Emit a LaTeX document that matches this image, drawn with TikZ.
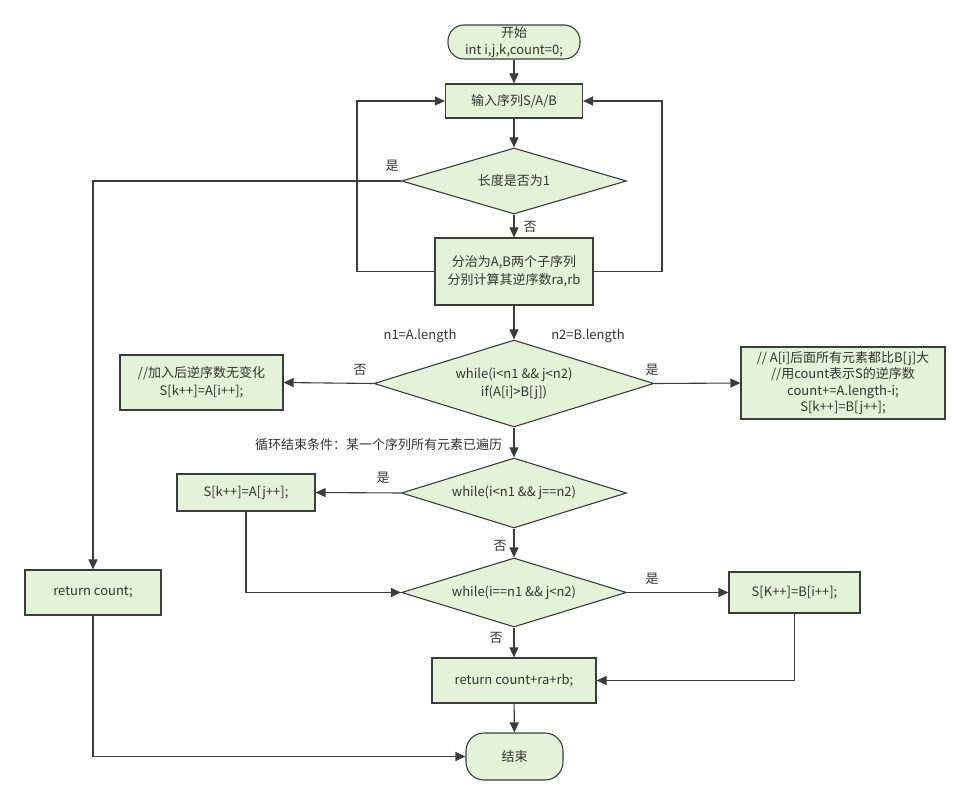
\documentclass[tikz,border=0pt]{standalone}
\usepackage{fontspec}
\setmainfont{Noto Sans CJK SC}
\usetikzlibrary{arrows.meta,shapes.geometric}
\definecolor{fillg}{HTML}{E3F3D8}
\definecolor{edgec}{HTML}{3C3C3C}
\definecolor{txt}{HTML}{333333}
\begin{document}
\begin{tikzpicture}[x=1pt,y=-1pt,
 every node/.style={text=txt, font=\fontsize{13}{18}\selectfont},
 box/.style={draw=edgec, fill=fillg, line width=1.1pt, inner sep=0pt, align=center},
 term/.style={box, rounded corners=16pt},
 dia/.style={box, diamond},
 arr/.style={draw=edgec, line width=1.1pt, -{Triangle[length=10pt,width=9pt]}},
 lbl/.style={inner sep=1pt}]
\useasboundingbox (0,0) rectangle (970,805);
\node[term, minimum width=132, minimum height=34] (start) at (514,42) {开始\\[-1pt]int i,j,k,count=0;};
\node[box, minimum width=137, minimum height=34] (input) at (514,101) {输入序列S/A/B};
\node[dia, minimum width=225, minimum height=66, shape aspect=3.4] (d1) at (514,181) {长度是否为1};
\node[box, minimum width=158, minimum height=67] (box2) at (514,271.5) {分治为A,B两个子序列\\分别计算其逆序数ra,rb};
\node[dia, minimum width=280, minimum height=87, shape aspect=3.2] (d3) at (514,383.5) {while(i<n1 \&\& j<n2)\\if(A[i]>B[j])};
\node[box, minimum width=163, minimum height=55] (left) at (201.5,382.5) {//加入后逆序数无变化\\S[k++]=A[i++];};
\node[box, minimum width=204, minimum height=72, font=\fontsize{13}{16.5}\selectfont] (right) at (843,383) {// A[i]后面所有元素都比B[j]大\\//用count表示S的逆序数\\count+=A.length-i;\\S[k++]=B[j++];};
\node[dia, minimum width=225, minimum height=70, shape aspect=3.2] (d4) at (514,493) {while(i<n1 \&\& j==n2)};
\node[box, minimum width=138, minimum height=37] (sa) at (246,492.5) {S[k++]=A[j++];};
\node[dia, minimum width=225, minimum height=69, shape aspect=3.2] (d5) at (514,592.5) {while(i==n1 \&\& j<n2)};
\node[box, minimum width=131, minimum height=41] (sb) at (794.5,592.5) {S[K++]=B[i++];};
\node[box, minimum width=164, minimum height=45] (ret) at (514,680.5) {return count+ra+rb;};
\node[term, minimum width=97, minimum height=47, rounded corners=18pt] (end) at (514.5,756.5) {结束};
\node[box, minimum width=136, minimum height=45] (rc) at (93,592.5) {return count;};
\coordinate (lp) at (357,0);
\coordinate (rp) at (662,0);
\draw[arr] (start) -- (input);
\draw[arr] (input) -- (d1);
\draw[arr] (d1) -- (box2);
\draw[arr] (box2.west) -- (lp |- box2.west) -- (lp |- input.west) -- (input.west);
\draw[arr] (box2.east) -- (rp |- box2.east) -- (rp |- input.east) -- (input.east);
\draw[arr] (d1.west) -| (rc.north);
\draw[arr] (box2) -- (d3);
\draw[arr] (d3.west) -- (left.east);
\draw[arr] (d3.east) -- (right.west);
\draw[arr] (d3) -- (d4);
\draw[arr] (d4.west) -- (sa.east);
\draw[arr] (sa.south) |- (d5.west);
\draw[arr] (d4) -- (d5);
\draw[arr] (d5.east) -- (sb.west);
\draw[arr] (d5) -- (ret);
\draw[arr] (sb.south) |- (ret.east);
\draw[arr] (ret) -- (end);
\draw[arr] (rc.south) |- (end.west);
\node[lbl] (l1) at (392,166) {是};
\node[lbl] (l2) at (530,227) {否};
\node[lbl] (l3) at (420,336) {n1=A.length};
\node[lbl] (l4) at (588,336) {n2=B.length};
\node[lbl] (l5) at (360,370) {否};
\node[lbl] (l6) at (652,370) {是};
\node[lbl] (l7) at (378.5,445) {循环结束条件：某一个序列所有元素已遍历};
\node[lbl] (l8) at (383,478) {是};
\node[lbl] (l9) at (500,546) {否};
\node[lbl] (l10) at (652,579) {是};
\node[lbl] (l11) at (496,638) {否};
\end{tikzpicture}
\end{document}
